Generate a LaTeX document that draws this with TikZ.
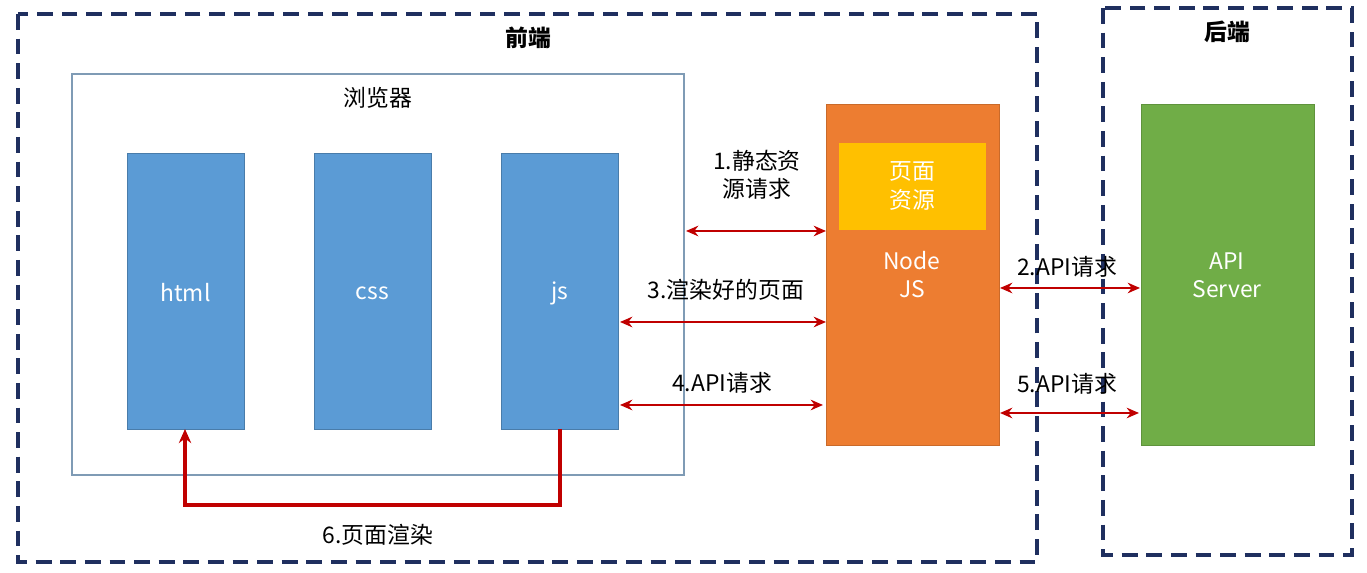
\documentclass[tikz,border=0pt]{standalone}
\usepackage{fontspec}
\setmainfont{Noto Sans CJK SC}
\usetikzlibrary{positioning, arrows.meta}
\definecolor{navy}{HTML}{1F2F5F}
\definecolor{blueb}{HTML}{5B9BD5}
\definecolor{orangeb}{HTML}{ED7D31}
\definecolor{yellowb}{HTML}{FFC000}
\definecolor{greenb}{HTML}{70AD47}
\definecolor{darkred}{HTML}{C00000}
\definecolor{framec}{HTML}{7F9BB5}

\begin{document}
\begin{tikzpicture}[x=0.02cm, y=-0.02cm,
      every node/.style={font=\fontsize{13}{16}\selectfont},
      zone/.style={draw=navy, line width=2.6pt, dash pattern=on 9pt off 5pt},
      part/.style={fill=blueb, draw=blueb!80!black, line width=0.4pt},
      arrow/.style={draw=darkred, line width=1.6pt, {Stealth[length=7pt,width=6pt]}-{Stealth[length=7pt,width=6pt]}},
      lbl/.style={align=center, text=black}
   ]
   \useasboundingbox (0,0) rectangle (1367,573);

   % Frames
   \draw [zone] (18,14) rectangle (1037,562);
   \draw [zone] (1103,8) rectangle (1352,555);
   \node (front) at (528,38) {\bfseries 前端};
   \node (back) at (1227,32) {\bfseries 后端};

   % Browser
   \draw [framec, line width=0.8pt] (72,74) rectangle (684,475);
   \node (browser) at (378,98) {浏览器};
   \draw [part] (127,153) rectangle (244,429);
   \draw [part] (314,153) rectangle (431,429);
   \draw [part] (501,153) rectangle (618,429);
   \node (html) [text=white] at (185.5,293) {html};
   \node (css) [text=white] at (372.5,293) {css};
   \node (js) [text=white] at (559.5,293) {js};
   \coordinate (htmlb) at (185,429);
   \coordinate (jsb) at (560,429);

   % Node JS
   \draw [fill=orangeb, draw=orangeb!85!black] (826,104) rectangle (999,445);
   \draw [fill=yellowb, draw=yellowb] (839,143) rectangle (985,229);
   \node (res) [text=white, align=center] at (912,186) {页面\\资源};
   \node (nodejs) [text=white, align=center] at (912,275) {Node\\JS};

   % API server
   \draw [fill=greenb, draw=greenb!85!black] (1141,104) rectangle (1314,445);
   \node (api) [text=white, align=center] at (1227,275) {API\\Server};

   % Arrows
   \draw [arrow] (686,231) -- (826,231);
   \node [lbl] at (757,175) {1.静态资\\源请求};
   \draw [arrow] (620,322) -- (826,322);
   \node [lbl] at (726,290) {3.渲染好的页面};
   \draw [arrow] (620,405) -- (823,405);
   \node [lbl] at (722,383) {4.API请求};
   \draw [arrow] (1000,288) -- (1140,288);
   \node [lbl] at (1067,267) {2.API请求};
   \draw [arrow] (1000,413) -- (1139,413);
   \node [lbl] at (1067,384) {5.API请求};

   \draw [draw=darkred, line width=2.2pt, -{Stealth[length=8pt,width=7pt]}] (jsb) -- (560,505) -- (185,505) -- (htmlb);
   \node [lbl] at (378,535) {6.页面渲染};
\end{tikzpicture}
\end{document}
